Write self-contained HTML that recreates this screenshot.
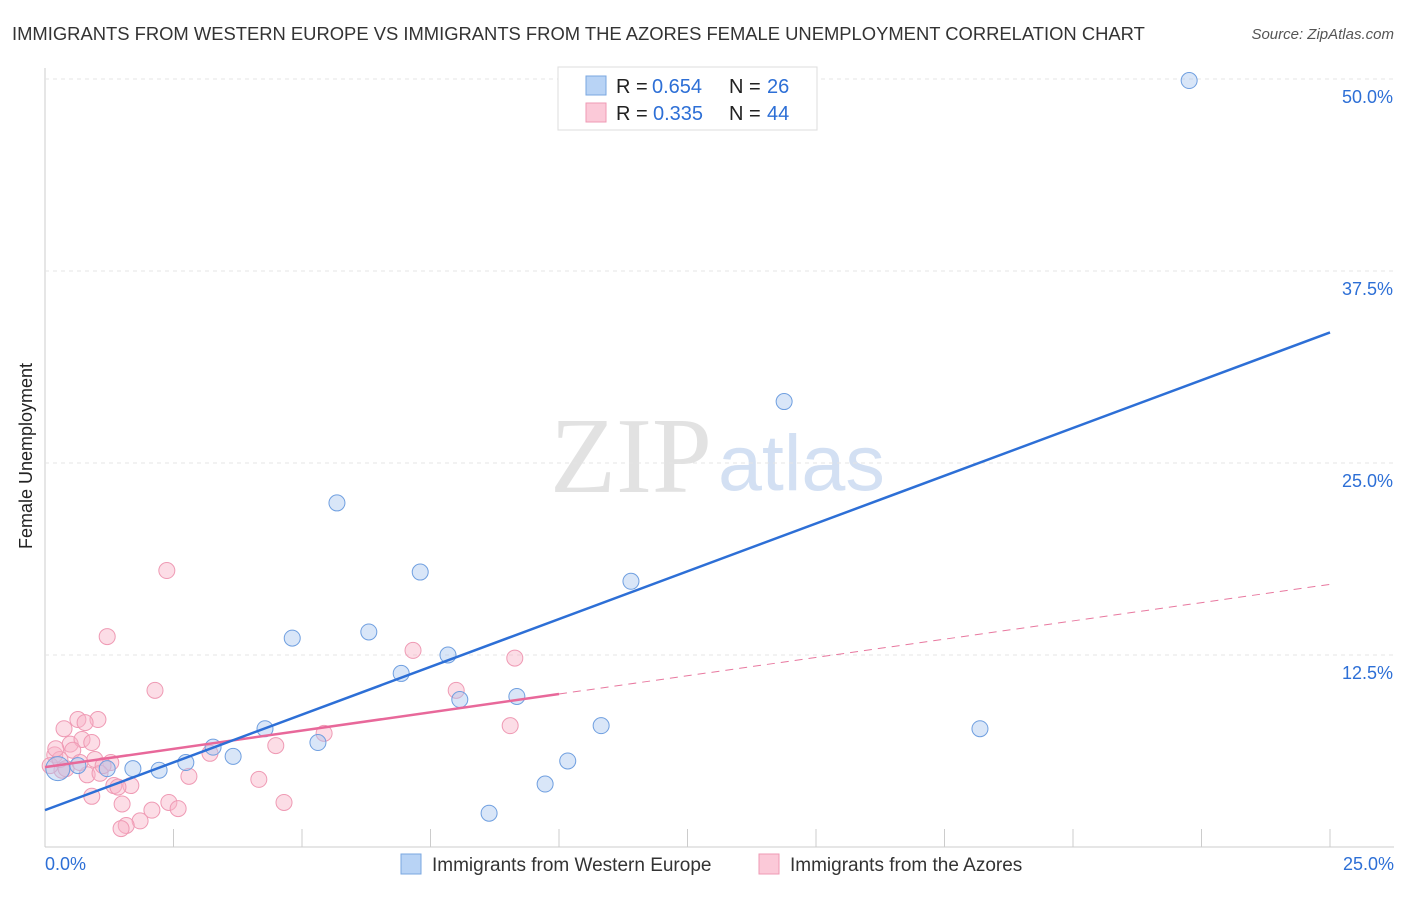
<!DOCTYPE html>
<html><head><meta charset="utf-8"><style>
body{margin:0;background:#fff;font-family:"Liberation Sans",sans-serif;}
</style></head><body>
<svg id="chart" width="1406" height="892" xmlns="http://www.w3.org/2000/svg">
<text x="12" y="40" font-size="18.4" fill="#333">IMMIGRANTS FROM WESTERN EUROPE VS IMMIGRANTS FROM THE AZORES FEMALE UNEMPLOYMENT CORRELATION CHART</text>
<text x="1394" y="39" font-size="15" fill="#555" font-style="italic" text-anchor="end">Source: ZipAtlas.com</text>
<text x="32" y="456" font-size="18" fill="#222" text-anchor="middle" transform="rotate(-90 32 456)">Female Unemployment</text>
<text x="712" y="492" font-size="108" fill="#e2e2e2" text-anchor="end" font-family="Liberation Serif,serif">ZIP</text>
<text x="718" y="490" font-size="79" fill="#d3e0f3">atlas</text>
<g id="grid"></g><g id="marks"></g>
<g>
<rect x="558" y="67" width="259" height="63" fill="#fff" stroke="#ddd"/>
<rect x="586" y="76" width="20" height="19" fill="#b8d3f5" stroke="#7aa7e0"/>
<rect x="586" y="103" width="20" height="19" fill="#fbc9d8" stroke="#ef9ab4"/>
<text x="616" y="93" font-size="20" fill="#222">R =</text>
<text x="652" y="93" font-size="20" fill="#2d6fd6">0.654</text>
<text x="729" y="93" font-size="20" fill="#222">N =</text>
<text x="767" y="93" font-size="20" fill="#2d6fd6">26</text>
<text x="616" y="120" font-size="20" fill="#222">R =</text>
<text x="653" y="120" font-size="20" fill="#2d6fd6">0.335</text>
<text x="729" y="120" font-size="20" fill="#222">N =</text>
<text x="767" y="120" font-size="20" fill="#2d6fd6">44</text>
</g>
<g>
<rect x="401" y="854" width="20" height="20" fill="#b8d3f5" stroke="#7aa7e0"/>
<text x="432" y="871" font-size="19" fill="#333">Immigrants from Western Europe</text>
<rect x="759" y="854" width="20" height="20" fill="#fbc9d8" stroke="#ef9ab4"/>
<text x="790" y="871" font-size="19" fill="#333">Immigrants from the Azores</text>
</g>
</svg>
<script>
const blueX=[22.26,14.38,5.68,7.30,11.40,4.81,6.30,7.84,6.93,8.07,9.18,10.82,18.19,4.28,3.27,3.66,5.31,2.74,2.22,1.71,1.21,0.64,0.25,10.17,9.73,8.64];
const blueY=[49.9,29.0,22.4,17.9,17.3,13.6,14.0,12.5,11.3,9.6,9.8,7.9,7.7,7.7,6.5,5.9,6.8,5.5,5.0,5.1,5.1,5.3,5.1,5.6,4.1,2.2];
const pinkX=[2.37,1.21,7.16,9.14,2.14,8.0,1.03,0.64,0.37,0.78,9.05,5.43,0.49,0.72,0.91,4.49,3.21,0.19,0.54,0.97,1.28,0.33,0.10,0.82,1.07,2.80,4.16,1.34,1.67,1.42,0.91,1.50,2.41,4.65,2.08,2.59,1.85,1.58,1.48,0.29,1.13,0.41,0.21,0.68];
const pinkY=[18.0,13.7,12.8,12.3,10.2,10.2,8.3,8.3,7.7,8.1,7.9,7.4,6.7,7.0,6.8,6.6,6.1,6.0,6.3,5.7,5.5,5.0,5.3,4.7,4.8,4.6,4.4,4.0,4.0,3.9,3.3,2.8,2.9,2.9,2.4,2.5,1.7,1.4,1.2,5.7,5.3,5.1,6.4,5.5];
const blueTrend=[2.4,33.5];
const pinkTrend=[5.2,17.1];
const pinkSolidEnd=10;
const yTicks=[12.5,25,37.5,50];
const yTickLabels=["12.5%","25.0%","37.5%","50.0%"];
const xTicks=[0,2.5,5,7.5,10,12.5,15,17.5,20,22.5,25];
const NS="http://www.w3.org/2000/svg";
const sx=v=>45+v*51.4, sy=v=>847-v*15.36;
function mk(p,t,a){const e=document.createElementNS(NS,t);for(const k in a)e.setAttribute(k,a[k]);p.appendChild(e);return e;}
const grid=document.getElementById('grid'),marks=document.getElementById('marks');
let ax=mk(grid,'line',{x1:45,y1:68,x2:45,y2:847,stroke:'#ccc'});


let bx=mk(grid,'line',{x1:45,y1:847,x2:1394,y2:847,stroke:'#ccc'});


yTicks.forEach((v,i)=>{
 let g=mk(grid,'line',{x1:45,y1:sy(v),x2:1394,y2:sy(v),stroke:'#e4e4e4','stroke-dasharray':'4 4'});
 
 
 let t=mk(grid,'text',{x:1393,y:sy(v)+24,'font-size':18,fill:'#2d6fd6','text-anchor':'end'});
 t.textContent=yTickLabels[i];
 
 
});
xTicks.forEach(v=>{
 let l=mk(grid,'line',{x1:sx(v),y1:829,x2:sx(v),y2:847,stroke:'#ccc'});
 
 
});
let x0=mk(grid,'text',{x:45,y:870,'font-size':18,fill:'#2d6fd6'});x0.textContent='0.0%';


let x1=mk(grid,'text',{x:1394,y:870,'font-size':18,fill:'#2d6fd6','text-anchor':'end'});x1.textContent='25.0%';


pinkX.forEach((v,i)=>{
 let c=mk(marks,'circle',{cx:sx(v),cy:sy(pinkY[i]),r:8,fill:'rgba(248,180,200,0.45)',stroke:'#ef9ab4','stroke-width':1});
 
 
});
blueX.forEach((v,i)=>{
 let c=mk(marks,'circle',{cx:sx(v),cy:sy(blueY[i]),r:i==22?12:8,fill:'rgba(170,200,240,0.45)',stroke:'#6f9fe0','stroke-width':1});
 
 
});
const pAt=x=>pinkTrend[0]+(pinkTrend[1]-pinkTrend[0])*x/25;
let pd=mk(marks,'line',{x1:sx(pinkSolidEnd),y1:sy(pAt(pinkSolidEnd)),x2:sx(25),y2:sy(pinkTrend[1]),stroke:'#e8789f','stroke-width':1,'stroke-dasharray':'8 6'});


let ps=mk(marks,'line',{x1:sx(0),y1:sy(pinkTrend[0]),x2:sx(pinkSolidEnd),y2:sy(pAt(pinkSolidEnd)),stroke:'#e8689a','stroke-width':2.5});


let bl=mk(marks,'line',{x1:sx(0),y1:sy(blueTrend[0]),x2:sx(25),y2:sy(blueTrend[1]),stroke:'#2d6fd6','stroke-width':2.5});


</script>
</body></html>
